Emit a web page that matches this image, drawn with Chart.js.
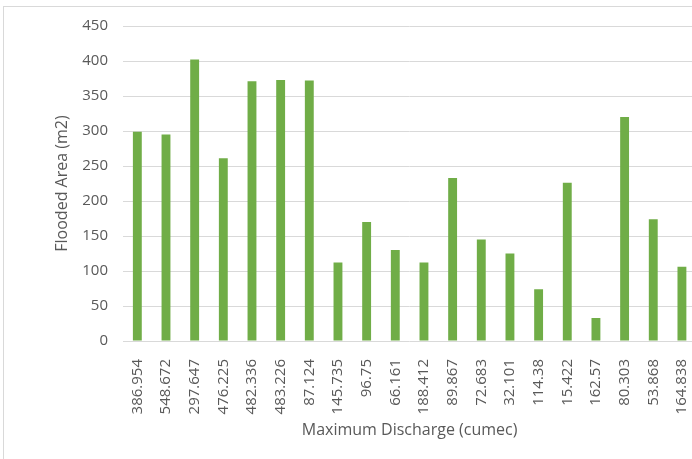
<!DOCTYPE html>
<html>
<head>
<meta charset="utf-8">
<script src="https://cdn.jsdelivr.net/npm/chart.js@4.4.1/dist/chart.umd.min.js"></script>
<style>
  html, body { margin: 0; padding: 0; background: #fff; overflow: hidden; }
  #wrap { position: relative; width: 692px; height: 459px; overflow: hidden; }
  #frame { position: absolute; left: 3px; top: 6px; width: 720px; height: 470px; border: 1px solid #d9d9d9; box-sizing: border-box; }
  #grafica { position: absolute; left: 0; top: 0; }
</style>
</head>
<body>
<div id="wrap">
  <div id="frame"></div>
  <canvas id="grafica" width="710" height="459"></canvas>
</div>
<script>
// descarga maxima (cumec) y area inundada (m2)
const descargas = [
  "386.954", "548.672", "297.647", "476.225", "482.336", "483.226", "87.124",
  "145.735", "96.75", "66.161", "188.412", "89.867", "72.683", "32.101",
  "114.38", "15.422", "162.57", "80.303", "53.868", "164.838"
];
const areas = [
  299, 295, 402, 261, 371, 373, 372,
  112, 170, 130, 112, 233, 145, 125,
  74, 226, 33, 320, 174, 106
];
const ticksY = [0, 50, 100, 150, 200, 250, 300, 350, 400, 450];

const gris = "#595959";
const fuente = "'Open Sans', sans-serif";

new Chart(document.getElementById("grafica"), {
  type: "bar",
  data: {
    labels: descargas,
    datasets: [
      {
        label: "Flooded Area (m2)",
        data: areas,
        backgroundColor: "#70ad47",
        borderWidth: 0,
        barPercentage: 0.31,
        categoryPercentage: 1,
      },
    ],
  },
  options: {
    responsive: false,
    animation: false,
    devicePixelRatio: 1,
    layout: {
      padding: { top: 26, left: 53, right: 3, bottom: 19 },
    },
    plugins: {
      legend: { display: false },
      tooltip: { enabled: false },
    },
    scales: {
      x: {
        grid: { display: false },
        border: { display: false },
        ticks: {
          color: gris,
          font: { family: fuente, size: 15 },
          minRotation: 90,
          maxRotation: 90,
          autoSkip: false,
          padding: 10,
        },
        title: {
          display: true,
          text: "Maximum Discharge (cumec)",
          color: gris,
          font: { family: fuente, size: 16 },
          padding: 0,
        },
        afterFit: (escala) => {
          escala.height = 99;
        },
      },
      y: {
        min: 0,
        max: 450,
        afterBuildTicks: (escala) => {
          escala.ticks = ticksY.map((v) => ({ value: v }));
        },
        grid: { color: "#d9d9d9", lineWidth: 1, drawTicks: false },
        border: { display: false },
        ticks: {
          color: gris,
          font: { family: fuente, size: 15 },
          padding: 15,
        },
        title: {
          display: true,
          text: "Flooded Area (m2)",
          color: gris,
          font: { family: fuente, size: 16 },
          padding: 0,
        },
        afterFit: (escala) => {
          escala.width = 70;
        },
      },
    },
  },
});
</script>
</body>
</html>
